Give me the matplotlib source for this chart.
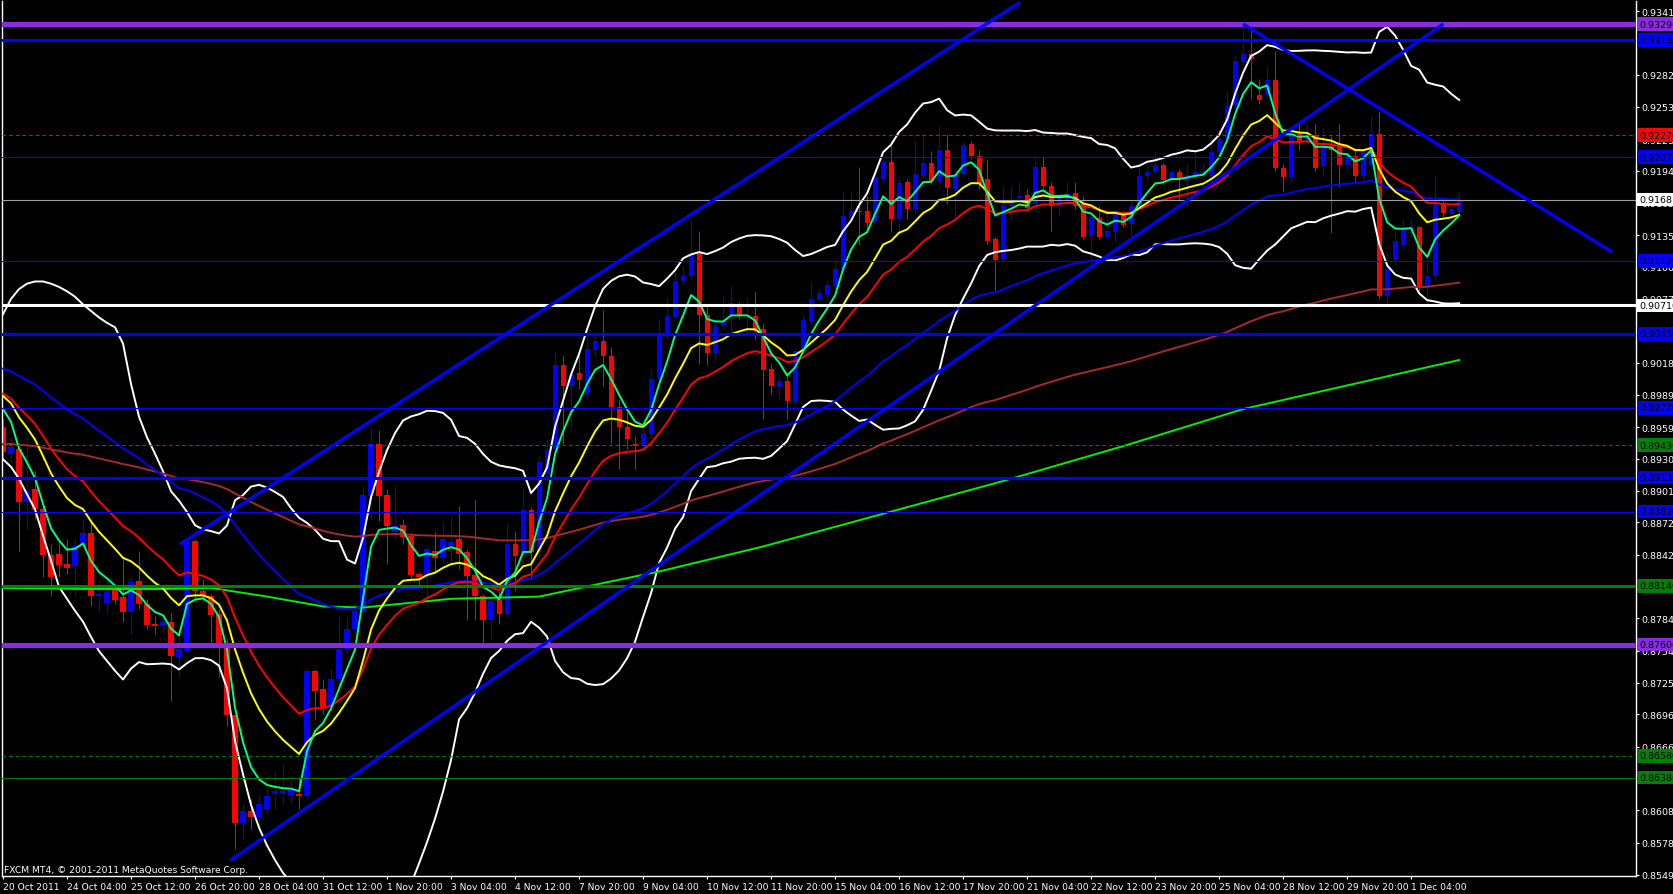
import numpy as np
import pandas as pd
import matplotlib
matplotlib.use("Agg")
import matplotlib.pyplot as plt
import matplotlib.transforms as mtransforms

plt.rcParams['font.family'] = ['DejaVu Sans']

#####################
# H4 bars (USDCHF?) #
#####################

bar_open = [
    0.8960, 0.8935, 0.8939, 0.8891, 0.8903, 0.8884, 0.8842, 0.8843, 0.8834, 0.8832,
    0.8852, 0.8862, 0.8805, 0.8798, 0.8810, 0.8804, 0.8790, 0.8818, 0.8797, 0.8779,
    0.8777, 0.8781, 0.8749, 0.8754, 0.8855, 0.8809, 0.8805, 0.8788, 0.8761, 0.8695,
    0.8596, 0.8607, 0.8602, 0.8609, 0.8623, 0.8623, 0.8622, 0.8623, 0.8621, 0.8736,
    0.8719, 0.8703, 0.8728, 0.8756, 0.8774, 0.8790, 0.8896, 0.8944, 0.8897, 0.8863,
    0.8870, 0.8860, 0.8825, 0.8825, 0.8846, 0.8839, 0.8850, 0.8857, 0.8845, 0.8824,
    0.8805, 0.8783, 0.8802, 0.8788, 0.8852, 0.8841, 0.8883, 0.8845, 0.8916, 0.8939,
    0.9016, 0.8997, 0.9009, 0.8990, 0.9030, 0.9038, 0.9025, 0.8978, 0.8960, 0.8944,
    0.8942, 0.8953, 0.9004, 0.9043, 0.9060, 0.9093, 0.9098, 0.9119, 0.9062, 0.9027,
    0.9052, 0.9062, 0.9072, 0.9061, 0.9061, 0.9049, 0.9013, 0.8996, 0.9002, 0.8983,
    0.9028, 0.9057, 0.9076, 0.9081, 0.9089, 0.9104, 0.9152, 0.9158, 0.9158, 0.9148,
    0.9187, 0.9203, 0.9150, 0.9184, 0.9159, 0.9190, 0.9202, 0.9185, 0.9214, 0.9178,
    0.9192, 0.9219, 0.9208, 0.9187, 0.9132, 0.9113, 0.9162, 0.9170, 0.9172, 0.9164,
    0.9198, 0.9181, 0.9162, 0.9167, 0.9174, 0.9164, 0.9135, 0.9151, 0.9134, 0.9138,
    0.9156, 0.9146, 0.9162, 0.9190, 0.9193, 0.9200, 0.9186, 0.9193, 0.9187, 0.9191,
    0.9191, 0.9190, 0.9212, 0.9224, 0.9254, 0.9294, 0.9302, 0.9264, 0.9264, 0.9278,
    0.9197, 0.9189, 0.9228, 0.9223, 0.9227, 0.9199, 0.9217, 0.9217, 0.9200, 0.9208,
    0.9190, 0.9200, 0.9228, 0.9080, 0.9113, 0.9126, 0.9141, 0.9143, 0.9089, 0.9098,
    0.9165, 0.9155, 0.9157,
]

bar_high = [
    0.8967, 0.8950, 0.8939, 0.8950, 0.8919, 0.8886, 0.8852, 0.8854, 0.8857, 0.8857,
    0.8875, 0.8873, 0.8818, 0.8818, 0.8814, 0.8840, 0.8822, 0.8846, 0.8802, 0.8786,
    0.8783, 0.8789, 0.8770, 0.8857, 0.8857, 0.8820, 0.8806, 0.8793, 0.8765, 0.8696,
    0.8614, 0.8618, 0.8623, 0.8628, 0.8644, 0.8651, 0.8639, 0.8639, 0.8738, 0.8738,
    0.8728, 0.8738, 0.8786, 0.8785, 0.8797, 0.8905, 0.8960, 0.8957, 0.8903, 0.8905,
    0.8875, 0.8862, 0.8827, 0.8850, 0.8863, 0.8873, 0.8878, 0.8887, 0.8848, 0.8893,
    0.8806, 0.8804, 0.8809, 0.8871, 0.8864, 0.8904, 0.8886, 0.8933, 0.8949, 0.9029,
    0.9025, 0.9011, 0.9026, 0.9043, 0.9043, 0.9067, 0.9033, 0.8985, 0.8973, 0.8951,
    0.8958, 0.9013, 0.9059, 0.9079, 0.9111, 0.9107, 0.9150, 0.9139, 0.9071, 0.9054,
    0.9080, 0.9089, 0.9074, 0.9079, 0.9083, 0.9054, 0.9017, 0.9005, 0.9008, 0.9031,
    0.9063, 0.9093, 0.9086, 0.9095, 0.9114, 0.9176, 0.9176, 0.9198, 0.9171, 0.9196,
    0.9205, 0.9222, 0.9187, 0.9187, 0.9222, 0.9228, 0.9213, 0.9236, 0.9228, 0.9196,
    0.9221, 0.9222, 0.9214, 0.9205, 0.9134, 0.9181, 0.9181, 0.9184, 0.9178, 0.9207,
    0.9208, 0.9184, 0.9173, 0.9184, 0.9184, 0.9171, 0.9155, 0.9162, 0.9157, 0.9159,
    0.9158, 0.9169, 0.9198, 0.9203, 0.9213, 0.9202, 0.9196, 0.9196, 0.9201, 0.9213,
    0.9201, 0.9226, 0.9233, 0.9268, 0.9300, 0.9327, 0.9327, 0.9279, 0.9291, 0.9304,
    0.9201, 0.9233, 0.9240, 0.9237, 0.9237, 0.9235, 0.9226, 0.9237, 0.9212, 0.9214,
    0.9214, 0.9245, 0.9249, 0.9120, 0.9138, 0.9150, 0.9150, 0.9144, 0.9114, 0.9190,
    0.9167, 0.9162, 0.9175,
]

bar_low = [
    0.8930, 0.8928, 0.8846, 0.8866, 0.8875, 0.8822, 0.8805, 0.8822, 0.8825, 0.8804,
    0.8850, 0.8795, 0.8790, 0.8788, 0.8797, 0.8781, 0.8770, 0.8793, 0.8774, 0.8770,
    0.8771, 0.8708, 0.8730, 0.8751, 0.8802, 0.8799, 0.8762, 0.8730, 0.8685, 0.8573,
    0.8582, 0.8591, 0.8593, 0.8605, 0.8609, 0.8614, 0.8614, 0.8609, 0.8618, 0.8692,
    0.8696, 0.8699, 0.8719, 0.8751, 0.8770, 0.8788, 0.8875, 0.8873, 0.8834, 0.8857,
    0.8852, 0.8820, 0.8814, 0.8795, 0.8827, 0.8836, 0.8832, 0.8829, 0.8783, 0.8783,
    0.8761, 0.8765, 0.8779, 0.8785, 0.8809, 0.8832, 0.8820, 0.8839, 0.8914, 0.8935,
    0.8944, 0.8958, 0.8994, 0.8985, 0.9025, 0.8997, 0.8944, 0.8921, 0.8939, 0.8921,
    0.8939, 0.8949, 0.8999, 0.9040, 0.9059, 0.9091, 0.9095, 0.9017, 0.9016, 0.9022,
    0.9049, 0.9043, 0.9059, 0.9043, 0.9040, 0.8967, 0.8990, 0.8985, 0.8967, 0.8981,
    0.9027, 0.9054, 0.9074, 0.9077, 0.9086, 0.9103, 0.9150, 0.9126, 0.9141, 0.9146,
    0.9182, 0.9139, 0.9138, 0.9150, 0.9155, 0.9187, 0.9182, 0.9182, 0.9164, 0.9150,
    0.9189, 0.9205, 0.9178, 0.9127, 0.9084, 0.9111, 0.9148, 0.9164, 0.9158, 0.9157,
    0.9178, 0.9139, 0.9153, 0.9164, 0.9159, 0.9132, 0.9109, 0.9132, 0.9132, 0.9129,
    0.9143, 0.9134, 0.9159, 0.9187, 0.9192, 0.9184, 0.9182, 0.9167, 0.9161, 0.9187,
    0.9187, 0.9187, 0.9210, 0.9222, 0.9251, 0.9292, 0.9260, 0.9256, 0.9260, 0.9194,
    0.9175, 0.9184, 0.9214, 0.9219, 0.9194, 0.9190, 0.9137, 0.9180, 0.9196, 0.9184,
    0.9187, 0.9198, 0.9077, 0.9072, 0.9109, 0.9123, 0.9134, 0.9084, 0.9072, 0.9093,
    0.9152, 0.9150, 0.9156,
]

bar_close = [
    0.8937, 0.8941, 0.8891, 0.8901, 0.8884, 0.8842, 0.8822, 0.8833, 0.8830, 0.8850,
    0.8862, 0.8805, 0.8806, 0.8809, 0.8801, 0.8790, 0.8817, 0.8797, 0.8778, 0.8777,
    0.8781, 0.8750, 0.8756, 0.8855, 0.8809, 0.8805, 0.8787, 0.8761, 0.8695, 0.8596,
    0.8607, 0.8602, 0.8614, 0.8621, 0.8626, 0.8626, 0.8627, 0.8621, 0.8736, 0.8717,
    0.8703, 0.8728, 0.8756, 0.8774, 0.8791, 0.8897, 0.8944, 0.8896, 0.8869, 0.8869,
    0.8859, 0.8824, 0.8822, 0.8848, 0.8839, 0.8857, 0.8854, 0.8843, 0.8823, 0.8805,
    0.8783, 0.8800, 0.8788, 0.8852, 0.8841, 0.8883, 0.8845, 0.8927, 0.8938, 0.9016,
    0.8997, 0.9008, 0.9003, 0.9031, 0.9038, 0.9025, 0.8978, 0.8960, 0.8949, 0.8942,
    0.8954, 0.9004, 0.9045, 0.9061, 0.9093, 0.9098, 0.9118, 0.9062, 0.9027, 0.9052,
    0.9056, 0.9073, 0.9062, 0.9062, 0.9048, 0.9012, 0.8997, 0.9002, 0.8983, 0.9029,
    0.9058, 0.9077, 0.9082, 0.9090, 0.9104, 0.9153, 0.9158, 0.9157, 0.9147, 0.9189,
    0.9203, 0.9150, 0.9183, 0.9159, 0.9192, 0.9202, 0.9185, 0.9214, 0.9179, 0.9192,
    0.9218, 0.9208, 0.9182, 0.9130, 0.9113, 0.9163, 0.9166, 0.9171, 0.9160, 0.9198,
    0.9181, 0.9162, 0.9171, 0.9173, 0.9162, 0.9134, 0.9152, 0.9134, 0.9139, 0.9156,
    0.9145, 0.9162, 0.9190, 0.9193, 0.9200, 0.9186, 0.9193, 0.9187, 0.9191, 0.9193,
    0.9193, 0.9212, 0.9224, 0.9254, 0.9295, 0.9302, 0.9297, 0.9259, 0.9278, 0.9197,
    0.9189, 0.9228, 0.9221, 0.9227, 0.9197, 0.9217, 0.9214, 0.9200, 0.9208, 0.9190,
    0.9212, 0.9228, 0.9080, 0.9104, 0.9130, 0.9141, 0.9143, 0.9089, 0.9098, 0.9164,
    0.9156, 0.9159, 0.91681,
]

bb_upper_head = [0.9063, 0.9077, 0.9086, 0.9091, 0.9093, 0.9093, 0.9091, 0.9088, 0.9084, 0.9079,
                 0.9072, 0.9066, 0.9060, 0.9055, 0.9051, 0.9036, 0.8999, 0.8969, 0.8950]
bb_lower_head = [0.8930, 0.8923, 0.8912, 0.8898, 0.8884, 0.8860, 0.8837, 0.8813, 0.8802, 0.8791,
                 0.8781, 0.8767, 0.8754, 0.8745, 0.8736, 0.8728, 0.8738, 0.8744, 0.8742]

# moving average values at the first visible bar
ema_seed = {5: 0.8976, 13: 0.8988, 21: 0.8990, 55: 0.9013, 150: 0.8944}

# 200 sma read at a few bars
sma200_bar = [0, 10, 20, 26, 33, 40, 45, 56, 67, 76, 82, 95, 110, 125, 140, 155, 170, 182]
sma200_val = [0.8812, 0.8811, 0.8811, 0.8812, 0.8804, 0.8795, 0.8794, 0.8802, 0.8804, 0.8818,
              0.8827, 0.8850, 0.8880, 0.8910, 0.8942, 0.8976, 0.9001, 0.9021]

# horizontal levels
level_price = [0.93290, 0.93144, 0.92270, 0.92070, 0.91120, 0.90710, 0.90450, 0.89770,
               0.89430, 0.89132, 0.88820, 0.88140, 0.87600, 0.86580, 0.86380]
level_color = ['#8A2BE2', '#0000FF', '#FF0000', '#0000FF', '#0000FF', '#FFFFFF', '#0000FF', '#0000FF',
               '#008000', '#0000FF', '#0000FF', '#008000', '#8A2BE2', '#008000', '#008000']
level_width = [3.6, 2.2, 0.8, 0.8, 0.8, 2.2, 2.2, 0.8, 0.8, 2.2, 0.8, 2.2, 3.6, 0.8, 0.8]
level_dash = [False, False, True, False, False, False, False, False,
              True, False, False, False, False, True, False]

# trend lines (bar index, price)
trend_lines = [
    [(22.1, 0.8852), (127.1, 0.9349)],
    [(28.4, 0.8562), (180.0, 0.9329)],
    [(155.0, 0.9329), (201.1, 0.9120)],
]

price_ticks = [0.93410, 0.93120, 0.92825, 0.92530, 0.92235, 0.91945, 0.91650, 0.91355, 0.91065,
               0.90770, 0.90475, 0.90185, 0.89890, 0.89595, 0.89305, 0.89010, 0.88720, 0.88425,
               0.88135, 0.87840, 0.87545, 0.87250, 0.86960, 0.86665, 0.86370, 0.86080, 0.85785,
               0.85490]

date_labels = ['20 Oct 2011', '24 Oct 04:00', '25 Oct 12:00', '26 Oct 20:00', '28 Oct 04:00',
               '31 Oct 12:00', '1 Nov 20:00', '3 Nov 04:00', '4 Nov 12:00', '7 Nov 20:00',
               '9 Nov 04:00', '10 Nov 12:00', '11 Nov 20:00', '15 Nov 04:00', '16 Nov 12:00',
               '17 Nov 20:00', '21 Nov 04:00', '22 Nov 12:00', '23 Nov 20:00', '25 Nov 04:00',
               '28 Nov 12:00', '29 Nov 20:00', '1 Dec 04:00']


def ema(values, period, seed):
    a = 2.0 / (period + 1)
    out = [seed]
    for v in values[1:]:
        out.append(a * v + (1 - a) * out[-1])
    return np.array(out)


o = np.array(bar_open)
h = np.array(bar_high)
l = np.array(bar_low)
c = np.array(bar_close)
h = np.maximum(h, np.maximum(o, c))
l = np.minimum(l, np.minimum(o, c))
n = len(c)
x = np.arange(n)

s = pd.Series(c)
mid = s.rolling(20).mean()
sd = s.rolling(20).std(ddof=0)
bb_up = (mid + 2 * sd).to_numpy()
bb_dn = (mid - 2 * sd).to_numpy()
bb_up[:19] = bb_upper_head
bb_dn[:19] = bb_lower_head

fig = plt.figure(figsize=(16.74, 8.95), dpi=100, facecolor='black')
ax = fig.add_axes([2 / 1674, 18 / 895, 1634 / 1674, 875 / 895])
ax.set_facecolor('black')

# candles
up = c >= o
col = np.where(up, '#0000FF', '#FF0000')
ax.vlines(x, l, h, colors=col, linewidth=0.75, zorder=2)
body = np.maximum(np.abs(c - o), 0.0001)
ax.bar(x, body, bottom=np.minimum(o, c), width=0.64, color=col, linewidth=0, zorder=2.1)

# indicators
ax.plot(x, bb_up, color='white', lw=1.4, zorder=3)
ax.plot(x, bb_dn, color='white', lw=1.4, zorder=3)
ax.plot(sma200_bar, sma200_val, color='#00EE00', lw=1.4, zorder=3)
ax.plot(x, ema(c, 150, ema_seed[150]), color='#A52A2A', lw=1.4, zorder=3)
ax.plot(x, ema(c, 55, ema_seed[55]), color='#0000FF', lw=1.4, zorder=3)
ax.plot(x, ema(c, 21, ema_seed[21]), color='#FF0000', lw=1.4, zorder=3)
ax.plot(x, ema(c, 13, ema_seed[13]), color='#FFFF00', lw=1.4, zorder=3)
ax.plot(x, ema(c, 5, ema_seed[5]), color='#00FF7F', lw=1.4, zorder=3)

# horizontal lines
for p, clr, w, dash in zip(level_price, level_color, level_width, level_dash):
    ax.axhline(p, color=clr, lw=w, ls=(0, (3, 3)) if dash else '-', zorder=4)
ax.axhline(c[-1], color='#A0A0A0', lw=0.8, zorder=4)

for (x0, y0), (x1, y1) in trend_lines:
    ax.plot([x0, x1], [y0, y1], color='#0000FF', lw=2.4, zorder=5, solid_capstyle='butt')

ax.set_xlim(-0.125, 204.1)
ax.set_ylim(0.85478, 0.93502)

# axes
for side in ['left', 'right', 'bottom']:
    ax.spines[side].set_color('white')
    ax.spines[side].set_linewidth(1)
ax.spines['top'].set_visible(False)

ax.yaxis.tick_right()
ax.set_yticks(price_ticks)
ax.set_yticklabels([f'{v:.5f}' for v in price_ticks])
ax.tick_params(axis='y', colors='white', labelcolor='white', length=2.5, width=0.8,
               pad=1.5, labelsize=6.8)

ax.set_xticks(np.arange(0, 8 * len(date_labels), 8))
ax.set_xticklabels(date_labels)
ax.tick_params(axis='x', colors='white', labelcolor='white', length=2.5, width=0.8,
               pad=1.5, labelsize=6.6)
plt.setp(ax.get_xticklabels(), ha='left')

# price labels on the right scale
trans = mtransforms.blended_transform_factory(ax.transAxes, ax.transData)
tags = list(zip(level_price, level_color)) + [(c[-1], '#FFFFFF')]
for p, clr in tags:
    ax.text(1.0 + 3 / 1634, p, f'{p:.5f}', transform=trans, ha='left', va='center',
            fontsize=6.8, color='black', clip_on=False, zorder=10,
            bbox=dict(facecolor=clr, edgecolor='none', boxstyle='square,pad=0.25'))

fig.text(4 / 1674, 1 - 871 / 895, 'FXCM MT4, \u00a9 2001-2011 MetaQuotes Software Corp.',
         color='white', fontsize=6.6, va='center', ha='left')

fig.savefig('out.png', dpi=100, facecolor='black')
